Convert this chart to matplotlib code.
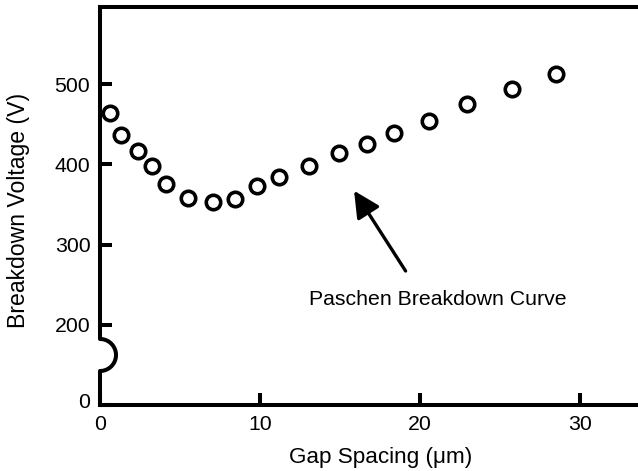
import numpy as np
import matplotlib.pyplot as plt
import matplotlib.transforms as mtransforms

plt.rcParams['font.family'] = ['Liberation Sans', 'DejaVu Sans']

# gap spacing (um) and breakdown voltage (V)
gap_um = [0.63, 1.31, 2.38, 3.25, 4.13, 5.5, 7.06, 8.44, 9.81, 11.19,
          13.06, 14.94, 16.69, 18.38, 20.56, 22.94, 25.75, 28.5]
voltage = [464, 436, 417, 398, 375, 358, 353, 357, 373, 384,
           398, 414, 425, 439, 454, 475, 494, 512]

x_ticks = [0, 10, 20, 30]
y_ticks = [100, 200, 300, 400, 500]   # axis is broken: bottom tick stands for 0
y_tick_labels = ['0', '200', '300', '400', '500']

W, H = 638, 471
fig = plt.figure(figsize=(W / 100, H / 100), dpi=100)
ax_l, ax_b, ax_w, ax_h = 100, 66, 538, 398
ax = fig.add_axes([ax_l / W, ax_b / H, ax_w / W, ax_h / H])

ax.plot(gap_um, voltage, 'o', ms=10.4, mfc='white', mec='black', mew=2.6,
        clip_on=False, zorder=3)

ax.set_xlim(0, ax_w / 16.0)
ax.set_ylim(100, 596)
ax.set_xticks(x_ticks)
ax.set_yticks(y_ticks)
ax.set_yticklabels(y_tick_labels)

fs = 15.3
lw = 2.9
ax.spines['right'].set_visible(False)
ax.spines['left'].set_visible(False)
ax.spines['top'].set_linewidth(lw)
ax.spines['bottom'].set_linewidth(lw)
ax.tick_params(direction='in', length=8.5, width=lw, labelsize=fs)
ax.tick_params(axis='x', pad=7)
ax.tick_params(axis='y', pad=7)

# the "0" label sits a bit above the bottom spine
lab0 = ax.get_yticklabels()[0]
lab0.set_transform(lab0.get_transform() +
                   mtransforms.ScaledTranslation(0, 4 / 100, fig.dpi_scale_trans))

# left spine with the little break bump
r = 16.0
cy = 405 - 355  # bump centre above the bottom spine, px
t = np.linspace(0, np.pi, 60)
bx = np.concatenate([[0, 0], r * np.sin(t), [0, 0]])
by = np.concatenate([[0, cy - r], cy - r * np.cos(t), [cy + r, ax_h]])
ax.plot(bx / ax_w, by / ax_h, color='black', lw=lw, transform=ax.transAxes,
        clip_on=False, solid_capstyle='projecting', solid_joinstyle='round')

ax.set_xlabel('Gap Spacing (μm)', fontsize=16.2)
ax.xaxis.set_label_coords((381 - ax_l) / ax_w, -(447 - 405) / ax_h)
ax.set_ylabel('Breakdown Voltage (V)', fontsize=16.6)
ax.yaxis.set_label_coords((30 - ax_l) / ax_w, 0.49)

ax.annotate('', xy=(15.88, 367), xytext=(19.1, 267),
            arrowprops=dict(arrowstyle='-|>,head_length=1.0,head_width=0.5',
                            mutation_scale=16, lw=2.4, color='black',
                            shrinkA=0, shrinkB=0))
ax.text(21.1, 232, 'Paschen Breakdown Curve', fontsize=fs,
        ha='center', va='center')

fig.savefig('out.png', dpi=100)
